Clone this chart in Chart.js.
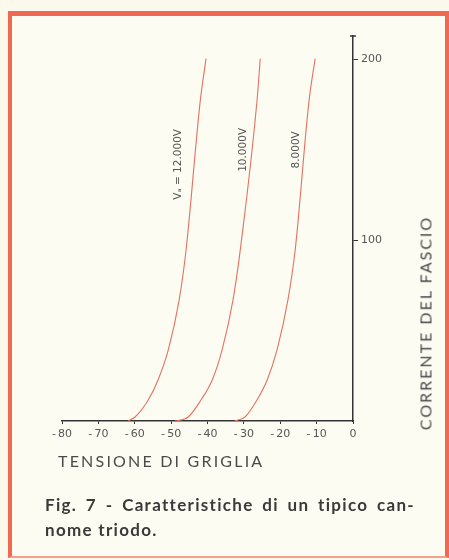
<!DOCTYPE html>
<html lang="it">
<head>
<meta charset="utf-8">
<title>Caratteristiche di un tipico cannone triodo</title>
<script src="https://cdn.jsdelivr.net/npm/chart.js@4.4.1/dist/chart.umd.min.js"></script>
<style>
  html, body { margin: 0; padding: 0; background: #fbf8ec; }
  body { width: 449px; height: 560px; position: relative; overflow: hidden; font-family: Lato, "DejaVu Sans", sans-serif; }
  .frame {
    position: absolute; left: 8px; top: 11px; width: 441px; height: 547px;
    box-sizing: border-box; background: #fdfcf3;
    border: 4px solid #ef6a50; border-top-width: 5px; border-bottom: 2px solid #f3a08c;
  }
  #chart { position: absolute; left: 0; top: 0; }
  .xtitle { position: absolute; left: 58px; top: 451px; font-size: 16px; letter-spacing: 2.2px; color: #4a4a4a; }
  .ytitle {
    position: absolute; left: 425px; top: 323px; white-space: nowrap;
    transform: translate(-50%, -50%) rotate(-90deg);
    font-size: 16px; letter-spacing: 2px; color: #4a4a4a;
  }
  .caption { position: absolute; left: 45px; width: 370px; top: 492px; font-weight: 700; font-size: 17px; line-height: 25px; letter-spacing: 1.3px; color: #3a3a3a; }
  .caption .l1 { text-align: justify; text-align-last: justify; }
</style>
</head>
<body>
<div class="frame"></div>
<canvas id="chart" width="449" height="560"></canvas>
<div class="xtitle">TENSIONE DI GRIGLIA</div>
<div class="ytitle">CORRENTE DEL FASCIO</div>
<div class="caption">
  <div class="l1">Fig. 7 - Caratteristiche di un tipico can-</div>
  <div>nome triodo.</div>
</div>
<script>
// beam current (mA) shared by the three curves
const currents = [0, 2.2, 11.6, 22.7, 39.2, 66.9, 94.5, 177, 200.5];
// grid voltage (V) at each current, one list per anode voltage
const volts12k = [-61.8, -59.9, -56.3, -53.6, -50.8, -47.8, -45.9, -42.0, -40.4];
const volts10k = [-48.9, -45.3, -41.8, -38.7, -36.0, -33.0, -31.0, -26.4, -25.5];
const volts8k = [-32.5, -29.7, -26.4, -23.6, -20.9, -17.9, -15.9, -12.1, -10.4];
const curveNames = ['Vₐ = 12.000V', '10.000V', '8.000V'];
const xTicks = [-80, -70, -60, -50, -40, -30, -20, -10, 0];
const yTicks = [100, 200];

const red = '#e3725f';
const ink = '#333';
const tickFont = '"DejaVu Sans", sans-serif';

function toPoints(volts) {
  return volts.map((v, i) => ({ x: v, y: currents[i] }));
}

// voltage of a curve at a given current, by linear lookup
function voltsAt(volts, c) {
  for (let i = 1; i < currents.length; i++) {
    if (c <= currents[i]) {
      const t = (c - currents[i - 1]) / (currents[i] - currents[i - 1]);
      return volts[i - 1] + t * (volts[i] - volts[i - 1]);
    }
  }
  return volts[volts.length - 1];
}

const series = [volts12k, volts10k, volts8k];

const curveLabels = {
  id: 'curveLabels',
  afterDraw(chart) {
    const { ctx, scales: { x, y } } = chart;
    ctx.save();
    // small cap on top of the current axis
    ctx.strokeStyle = ink;
    ctx.lineWidth = 1.5;
    ctx.beginPath();
    ctx.moveTo(x.right - 3, y.top);
    ctx.lineTo(x.right + 3, y.top);
    ctx.stroke();

    // labels written along each curve
    const at = [142, 150, 150];
    const gap = [16, 8, 8];
    ctx.fillStyle = '#555';
    ctx.font = '10.5px ' + tickFont;
    ctx.textAlign = 'center';
    ctx.textBaseline = 'middle';
    series.forEach((volts, i) => {
      const px = x.getPixelForValue(voltsAt(volts, at[i])) - gap[i];
      const py = y.getPixelForValue(at[i]);
      ctx.save();
      ctx.translate(px, py);
      ctx.rotate(-Math.PI / 2);
      ctx.fillText(curveNames[i], 0, 0);
      ctx.restore();
    });
    ctx.restore();
  }
};

new Chart(document.getElementById('chart'), {
  type: 'scatter',
  data: {
    datasets: series.map((volts, i) => ({
      label: curveNames[i],
      data: toPoints(volts),
      showLine: true,
      borderColor: red,
      borderWidth: 1.1,
      pointRadius: 0,
      cubicInterpolationMode: 'monotone',
    })),
  },
  options: {
    responsive: false,
    animation: false,
    devicePixelRatio: 1,
    layout: { padding: { left: 62, top: 36, right: 56, bottom: 109 } },
    plugins: {
      legend: { display: false },
      tooltip: { enabled: false },
    },
    scales: {
      x: {
        type: 'linear',
        position: 'bottom',
        min: -80,
        max: 0,
        afterBuildTicks: (s) => { s.ticks = xTicks.map((v) => ({ value: v })); },
        afterFit: (s) => { s.height = 30; },
        ticks: {
          color: '#555',
          padding: 4,
          font: { family: tickFont, size: 11 },
          callback: (v) => (v < 0 ? '-\u2009' + Math.abs(v) : String(v)),
        },
        grid: { drawOnChartArea: false, tickLength: 3, color: ink },
        border: { color: ink, width: 1.5 },
      },
      y: {
        type: 'linear',
        position: 'right',
        min: 0,
        max: 213,
        afterBuildTicks: (s) => { s.ticks = yTicks.map((v) => ({ value: v })); },
        afterFit: (s) => { s.width = 40; },
        ticks: {
          color: '#555',
          padding: 3,
          font: { family: tickFont, size: 11 },
        },
        grid: { drawOnChartArea: false, tickLength: 5, color: ink },
        border: { color: ink, width: 1.5 },
      },
    },
  },
  plugins: [curveLabels],
});
</script>
</body>
</html>
